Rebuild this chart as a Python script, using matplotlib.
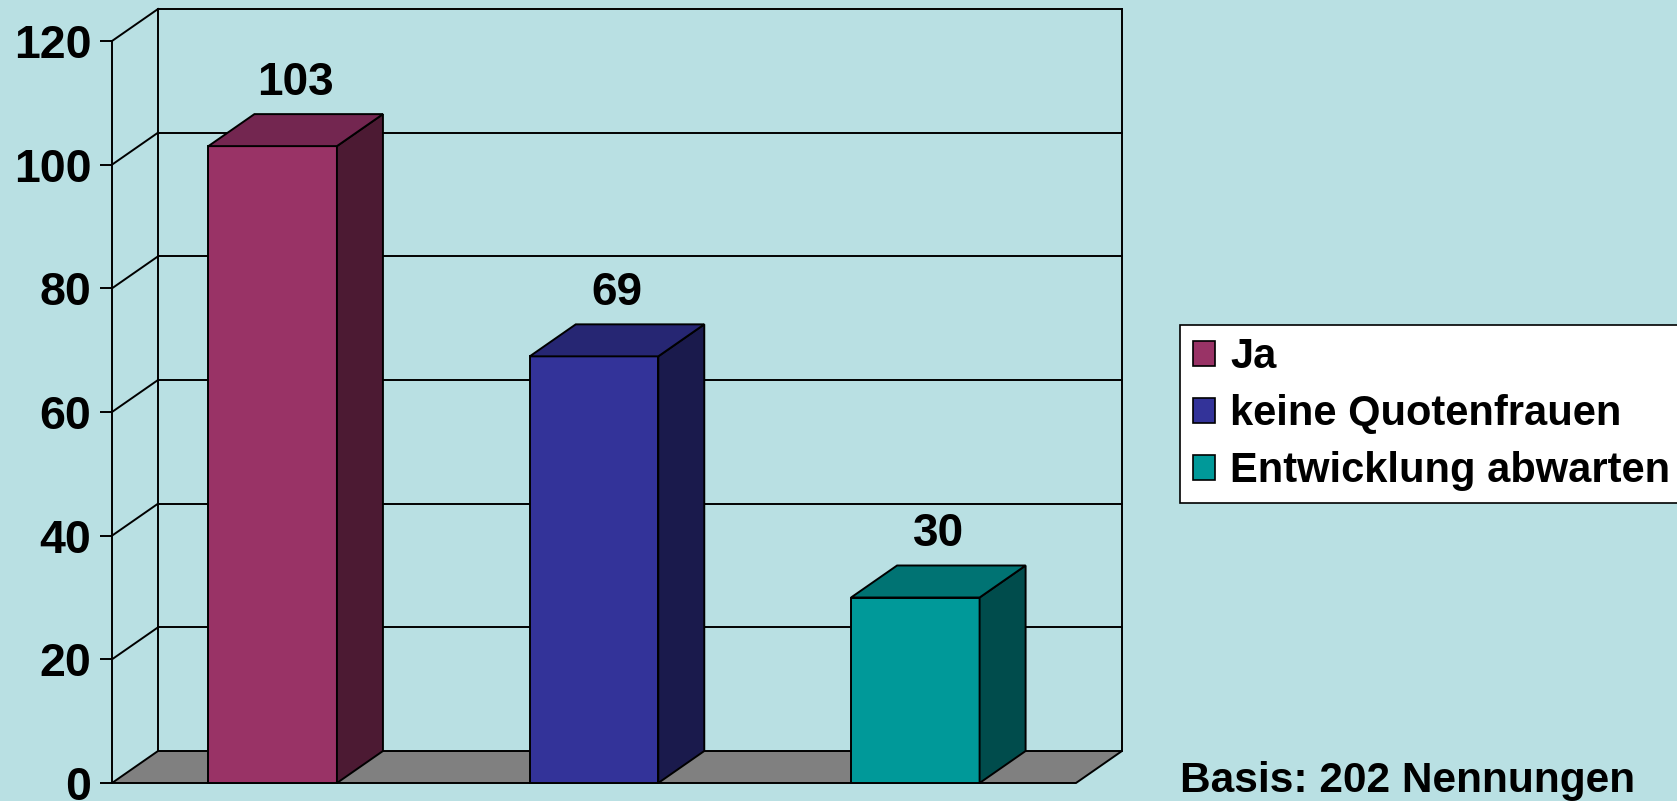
import matplotlib
matplotlib.use("Agg")
import matplotlib.pyplot as plt
from matplotlib.patches import Polygon, Patch

# data
categories = ["Ja", "keine Quotenfrauen", "Entwicklung abwarten"]
values = [103, 69, 30]
y_ticks = [0, 20, 40, 60, 80, 100, 120]
basis_text = "Basis: 202 Nennungen"

front_colors = ["#993366", "#333399", "#009999"]
top_colors = ["#732650", "#262673", "#007373"]
side_colors = ["#4c1a33", "#1a1a4c", "#004c4c"]
bg = "#b9e0e3"
floor_color = "#808080"

W, H = 1677, 801
fig = plt.figure(figsize=(W / 100, H / 100), dpi=100, facecolor=bg)
plt.rcParams['font.family'] = ['Liberation Sans', 'DejaVu Sans']

# front plane of the plot (pixels)
x0, x1, y0, y1 = 112, 1076, 783, 41
ax = fig.add_axes([x0 / W, (H - y0) / H, (x1 - x0) / W, (y0 - y1) / H])
ax.set_xlim(-0.5, 2.5)
ax.set_ylim(0, 120)
ax.patch.set_visible(False)

# depth of the 3d effect in pixels -> data units
depth_px = (46, 32)
ddx = depth_px[0] * 3.0 / (x1 - x0)
ddy = depth_px[1] * 120.0 / (y0 - y1)

lw = 1.4
ec = "black"

# floor
ax.add_patch(Polygon([(-0.5, 0), (2.5, 0), (2.5 + ddx, ddy), (-0.5 + ddx, ddy)],
                     closed=True, facecolor=floor_color, edgecolor=ec, lw=lw,
                     clip_on=False, zorder=1))

# walls and gridlines
for v in y_ticks[1:]:
    ax.plot([-0.5 + ddx, 2.5 + ddx], [v + ddy, v + ddy], color=ec, lw=lw,
            clip_on=False, zorder=1)
    ax.plot([-0.5, -0.5 + ddx], [v, v + ddy], color=ec, lw=lw,
            clip_on=False, zorder=1)
for xe in (-0.5 + ddx, 2.5 + ddx):
    ax.plot([xe, xe], [ddy, 120 + ddy], color=ec, lw=lw, clip_on=False, zorder=1)

# bars
w = 0.4
for i, v in enumerate(values):
    l, r = i - w / 2, i + w / 2
    ax.add_patch(Polygon([(l, 0), (r, 0), (r, v), (l, v)], closed=True,
                         facecolor=front_colors[i], edgecolor=ec, lw=lw,
                         clip_on=False, zorder=3, joinstyle='miter'))
    ax.add_patch(Polygon([(r, 0), (r + ddx, ddy), (r + ddx, v + ddy), (r, v)],
                         closed=True, facecolor=side_colors[i], edgecolor=ec,
                         lw=lw, clip_on=False, zorder=3, joinstyle='miter'))
    ax.add_patch(Polygon([(l, v), (r, v), (r + ddx, v + ddy), (l + ddx, v + ddy)],
                         closed=True, facecolor=top_colors[i], edgecolor=ec,
                         lw=lw, clip_on=False, zorder=3, joinstyle='miter'))
    ax.text(i + ddx / 2, v + ddy + 1.5, str(v), ha="center", va="bottom",
            fontsize=33, fontweight="bold", zorder=4)

# axis
for s in ("top", "right", "bottom"):
    ax.spines[s].set_visible(False)
ax.spines["left"].set_linewidth(lw)
ax.spines["left"].set_zorder(2)
ax.set_xticks([])
ax.set_yticks(y_ticks)
ax.tick_params(axis="y", direction="out", length=9, width=lw, pad=6,
               labelsize=33.5)
for t in ax.get_yticklabels():
    t.set_fontweight("bold")

# legend
handles = [Patch(facecolor=c, edgecolor="black", lw=1.2) for c in front_colors]
leg = fig.legend(handles, categories, loc="upper left",
                 bbox_to_anchor=(1180 / W, 1 - 325 / H),
                 fancybox=False, frameon=True, edgecolor="black",
                 facecolor="white", framealpha=1,
                 prop={"size": 30, "weight": "bold"},
                 handlelength=0.55, handleheight=0.55, handletextpad=0.35,
                 labelspacing=0.4, borderpad=0.3, borderaxespad=0)
leg.get_frame().set_linewidth(1.2)

fig.text(1180 / W, 1 - 781 / H, basis_text, ha="left", va="center",
         fontsize=30.5, fontweight="bold")

fig.savefig("out.png", dpi=100, facecolor=bg)
